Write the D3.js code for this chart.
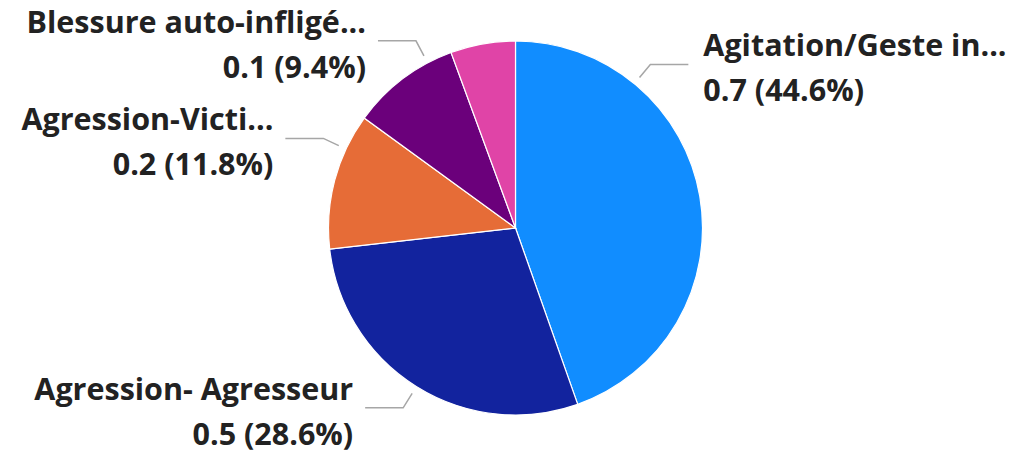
<!DOCTYPE html>
<html>
<head>
<meta charset="utf-8">
<script src="https://cdn.jsdelivr.net/npm/d3@7"></script>
<style>
  html, body { margin: 0; padding: 0; background: #fff; }
  svg { display: block; }
  .lbl { font-family: "Open Sans", sans-serif; font-weight: 700; font-size: 30.5px; fill: #222; }
</style>
</head>
<body>
<svg id="chart"></svg>
<script>
// data (Power BI pie, truncated category names as displayed)
var categories = ["Agitation/Geste in...", "Agression- Agresseur", "Agression-Victi...", "Blessure auto-infligé...", ""];
var values = [0.7047, 0.4519, 0.1864, 0.1485, 0.0885];
var colors = ["#118DFF", "#12239E", "#E66C37", "#6B007B", "#E044A7"];

try {
  var width = 1026, height = 454,
      cx = 515.5, cy = 228, radius = 187;

  // where each leader line touches the pie (degrees, clockwise from top)
  var leaderAngle = { 0: 39.5, 1: 212, 2: 295, 3: 332 };

  var svg = d3.select("#chart")
      .attr("width", width)
      .attr("height", height);

  var g = svg.append("g").attr("transform", "translate(" + cx + "," + cy + ")");

  var total = d3.sum(values);
  var pie = d3.pie().sort(null).value(function(d) { return d; });
  var arcs = pie(values);
  var arc = d3.arc().innerRadius(0).outerRadius(radius);

  g.selectAll("path.slice")
    .data(arcs)
  .enter().append("path")
    .attr("class", "slice")
    .attr("d", arc)
    .attr("fill", function(d, i) { return colors[i]; })
    .attr("stroke", "#fff")
    .attr("stroke-width", 1.2);

  var fmtV = d3.format(".1f"), fmtP = d3.format(".1%");

  var labels = arcs.map(function(d, i) {
    if (!categories[i]) return null;
    var a = (leaderAngle[i] != null ? leaderAngle[i] : (d.startAngle + d.endAngle) / 2 * 180 / Math.PI) * Math.PI / 180;
    var p1 = [(radius + 8) * Math.sin(a), -(radius + 8) * Math.cos(a)];
    var p2 = [(radius + 25) * Math.sin(a), -(radius + 25) * Math.cos(a)];
    var right = Math.sin(a) > 0;
    var p3 = [p2[0] + (right ? 38 : -38), p2[1]];
    return { i: i, p1: p1, p2: p2, p3: p3, right: right, value: values[i] };
  }).filter(function(d) { return d; });

  g.selectAll("polyline.leader")
    .data(labels)
  .enter().append("polyline")
    .attr("class", "leader")
    .attr("points", function(d) { return [d.p1, d.p2, d.p3].map(function(p) { return p.join(","); }).join(" "); })
    .attr("fill", "none")
    .attr("stroke", "#a6a6a6")
    .attr("stroke-width", 1.5);

  var txt = g.selectAll("text.lbl")
    .data(labels)
  .enter().append("text")
    .attr("class", "lbl")
    .attr("text-anchor", function(d) { return d.right ? "start" : "end"; })
    .attr("x", function(d) { return d.p3[0] + (d.right ? 15 : -12); })
    .attr("y", function(d) { return d.p3[1] - 8; });

  txt.append("tspan")
    .text(function(d) { return categories[d.i]; });

  txt.append("tspan")
    .attr("x", function(d) { return d.p3[0] + (d.right ? 15 : -12); })
    .attr("dy", 45)
    .text(function(d) { return fmtV(d.value) + " (" + fmtP(d.value / total) + ")"; });
} catch (e) {
  console.log(e);
}
</script>
</body>
</html>
